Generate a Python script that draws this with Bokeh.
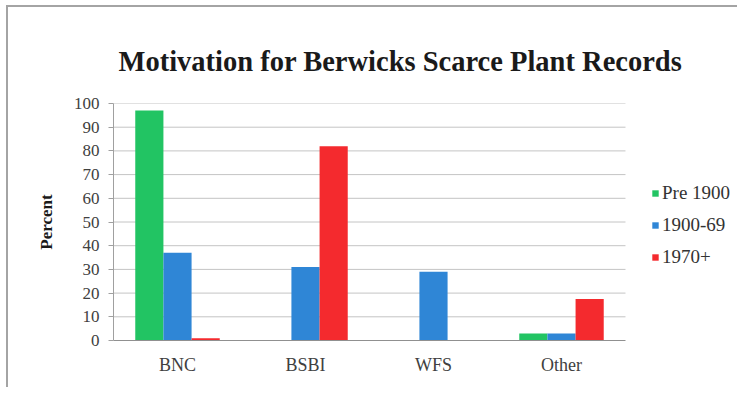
from bokeh.plotting import figure
from bokeh.models import Range1d, Legend, LegendItem, ColumnDataSource, Title, FixedTicker
from bokeh.transform import dodge
from bokeh.embed import file_html
from bokeh.resources import INLINE

categories = ["BNC", "BSBI", "WFS", "Other"]
series_names = ["Pre 1900", "1900-69", "1970+"]
pre1900 = [97, 0, 0, 3]
y1900_69 = [37, 31, 29, 3]
y1970 = [1, 82, 0, 17.5]
y_ticks = [0, 10, 20, 30, 40, 50, 60, 70, 80, 90, 100]

bar_colors = ["#22c463", "#2f86d6", "#f42a2e"]

# category centres on a numeric axis (one unit per category)
xc = [i + 0.5 for i in range(len(categories))]
src = ColumnDataSource(dict(x=xc, a=pre1900, b=y1900_69, c=y1970))

SERIF = "'Liberation Serif'"

p = figure(
    width=737, height=387,
    x_range=Range1d(0, 4.836),
    y_range=Range1d(0, 100),
    output_backend="svg", toolbar_location=None,
    min_border_left=113, min_border_right=5,
    min_border_top=103, min_border_bottom=47,
)
# thin grey frame lines (top and left) like the original picture's border
p.border_fill_alpha = 0
p.styles = {
    "background-color": "white",
    "background-image": "linear-gradient(#a4a4a4, #a4a4a4), linear-gradient(#a4a4a4, #a4a4a4)",
    "background-size": "100% 2px, 2px 100%",
    "background-position": "6px 5px, 6px 5px",
    "background-repeat": "no-repeat",
}

# horizontal gridlines over the category span
p.segment(x0=0, x1=len(categories), y0=y_ticks[1:], y1=y_ticks[1:],
          line_color="#c4c4c4", line_width=1)

w = 0.22
bars = []
for off, col, color in zip([-w, 0, w], ["a", "b", "c"], bar_colors):
    r = p.vbar(x=dodge("x", off), top=col, width=w,
               source=src, fill_color=color, line_color=None)
    bars.append(r)

items = [LegendItem(label=name, renderers=[r]) for name, r in zip(series_names, bars)]
legend = Legend(items=items, location=(538, 72), orientation="vertical",
                glyph_width=8, glyph_height=8, label_standoff=3, spacing=10,
                padding=0, margin=0, border_line_color=None, background_fill_alpha=0,
                label_text_font=SERIF, label_text_font_size="19px",
                label_text_color="#333333", label_height=18)
p.add_layout(legend, "center")

title = Title(text="Motivation for Berwicks Scarce Plant Records", align="left",
              text_font=SERIF, text_font_style="bold", text_font_size="28.5px",
              text_color="#1a1a1a", offset=5, standoff=54)
p.add_layout(title, "above")

p.grid.grid_line_color = None
p.outline_line_color = None

p.yaxis.ticker = FixedTicker(ticks=y_ticks)
p.yaxis.axis_label = "Percent"
p.yaxis.axis_label_text_font = SERIF
p.yaxis.axis_label_text_font_style = "bold"
p.yaxis.axis_label_text_font_size = "17px"
p.yaxis.axis_label_text_color = "#1a1a1a"
p.yaxis.axis_label_standoff = 15
p.yaxis.major_label_text_font = SERIF
p.yaxis.major_label_text_font_size = "17px"
p.yaxis.major_label_text_color = "#404040"
p.yaxis.major_label_standoff = 9
p.yaxis.axis_line_color = "#a0a0a0"
p.yaxis.major_tick_line_color = "#a0a0a0"
p.yaxis.major_tick_out = 5
p.yaxis.major_tick_in = 0
p.yaxis.minor_tick_line_color = None

p.xaxis.ticker = FixedTicker(ticks=xc)
p.xaxis.major_label_overrides = {x: c for x, c in zip(xc, categories)}
p.xaxis.bounds = (0, len(categories))
p.xaxis.axis_line_color = "#909090"
p.xaxis.major_tick_line_color = None
p.xaxis.minor_tick_line_color = None
p.xaxis.major_label_text_font = SERIF
p.xaxis.major_label_text_font_size = "18px"
p.xaxis.major_label_text_color = "#404040"
p.xaxis.major_label_standoff = 8

open("out.html", "w").write(file_html(p, INLINE))
